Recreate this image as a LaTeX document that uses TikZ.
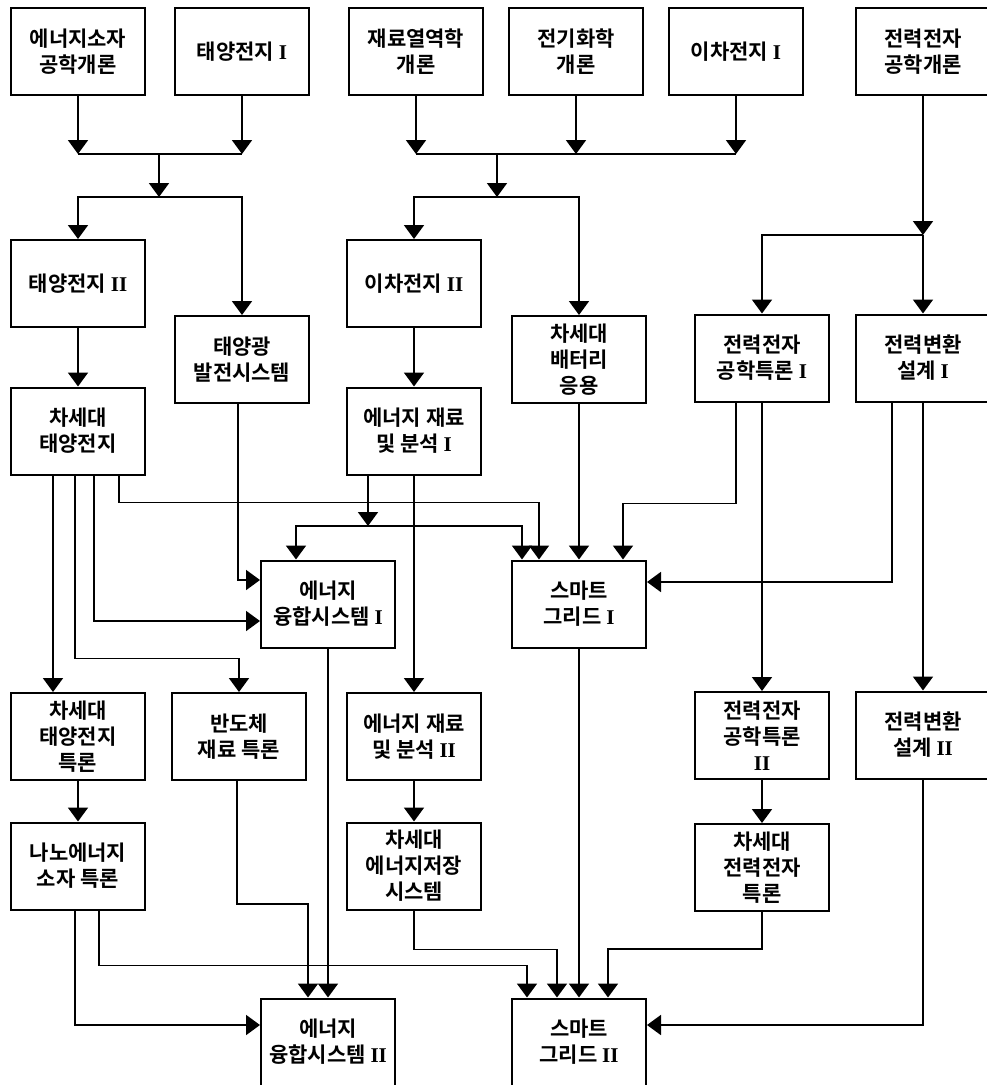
\documentclass[tikz,border=0pt]{standalone}
\usepackage{fontspec}
\usepackage{tikz}
\usetikzlibrary{arrows.meta}
\newfontfamily\kofont[BoldFont={Noto Sans CJK KR Bold}]{Noto Sans CJK KR}
\newfontfamily\numfont{Liberation Serif}
\newcommand{\rnum}[1]{{\numfont\bfseries #1}}
\tikzset{
  box/.style    = { rectangle, minimum width=134pt, minimum height=87pt, inner sep=0pt },
  border/.style = { line width=2pt, draw=black },
}
\tikzset{
  course/.style={
    box,
    border,
    align=center,
    font=\kofont\bfseries\fontsize{21}{26}\selectfont
  },
  link/.style = { line width=1.9pt, draw=black },
  flow/.style = { link, -{Triangle[width=20pt,length=14pt]} }
}
\begin{document}
\begin{tikzpicture}[x=1pt, y=-1pt]
  \useasboundingbox (0,0) rectangle (986,1085);
  \node (devintro)    [course] at (78,51.5)   {에너지소자\\공학개론};
  \node (solar1)      [course] at (242,51.5)  {태양전지 \rnum{I}};
  \node (thermo)      [course] at (416,51.5)  {재료열역학\\개론};
  \node (electrochem) [course] at (576,51.5)  {전기화학\\개론};
  \node (battery1)    [course] at (736,51.5)  {이차전지 \rnum{I}};
  \node (powerintro)  [course] at (923,51.5)  {전력전자\\공학개론};

  \node (solar2)      [course] at (78,283.5)  {태양전지 \rnum{II}};
  \node (battery2)    [course] at (414,283.5) {이차전지 \rnum{II}};

  \node (pvsys)       [course] at (242,359.5) {태양광\\발전시스템};
  \node (nextbat)     [course] at (579,359.5) {차세대\\배터리\\응용};
  \node (power1)      [course] at (762,358)   {전력전자\\공학특론 \rnum{I}};
  \node (conv1)       [course] at (923,358)   {전력변환\\설계 \rnum{I}};

  \node (nextsolar)   [course] at (78,431)    {차세대\\태양전지};
  \node (mat1)        [course] at (414,431)   {에너지 재료\\및 분석 \rnum{I}};

  \node (fusion1)     [course] at (328,604)   {에너지\\융합시스템 \rnum{I}};
  \node (grid1)       [course] at (579,604)   {스마트\\그리드 \rnum{I}};

  \node (solarsem)    [course] at (78,736.5)  {차세대\\태양전지\\특론};
  \node (semimat)     [course] at (239,736.5) {반도체\\재료 특론};
  \node (mat2)        [course] at (414,736.5) {에너지 재료\\및 분석 \rnum{II}};
  \node (power2)      [course] at (762,735.5) {전력전자\\공학특론\\\rnum{II}};
  \node (conv2)       [course] at (923,735)   {전력변환\\설계 \rnum{II}};

  \node (nano)        [course] at (78,866)    {나노에너지\\소자 특론};
  \node (storage)     [course] at (414,866)   {차세대\\에너지저장\\시스템};
  \node (nextpower)   [course] at (762,867.5) {차세대\\전력전자\\특론};

  \node (fusion2)     [course] at (328,1042)  {에너지\\융합시스템 \rnum{II}};
  \node (grid2)       [course] at (579,1042)  {스마트\\그리드 \rnum{II}};

  \coordinate (j1) at (159,154);
  \coordinate (j2) at (159,197);
  \coordinate (j3) at (497,154);
  \coordinate (j4) at (497,197);
  \coordinate (j5) at (923,235);
  \coordinate (j6) at (368,526);

  \draw [flow] (devintro)    -- (devintro |- j1);
  \draw [flow] (solar1)      -- (solar1 |- j1);
  \draw [link] (devintro |- j1) -- (solar1 |- j1);
  \draw [flow] (j1) -- (j2);
  \draw [flow] (j2) -| (solar2);
  \draw [flow] (j2) -| (pvsys);

  \draw [flow] (thermo)      -- (thermo |- j3);
  \draw [flow] (electrochem) -- (electrochem |- j3);
  \draw [flow] (battery1)    -- (battery1 |- j3);
  \draw [link] (thermo |- j3) -- (battery1 |- j3);
  \draw [flow] (j3) -- (j4);
  \draw [flow] (j4) -| (battery2);
  \draw [flow] (j4) -| (nextbat);

  \draw [flow] (powerintro) -- (j5);
  \draw [flow] (j5) -| (power1);
  \draw [flow] (j5) -- (conv1);

  \draw [flow] (solar2)   -- (nextsolar);
  \draw [flow] (battery2) -- (mat1);
  \draw [flow] (mat1)     -- (mat2);
  \draw [flow] (power1)   -- (power2);
  \draw [flow] (conv1)    -- (conv2);
  \draw [flow] (solarsem) -- (nano);
  \draw [flow] (mat2)     -- (storage);
  \draw [flow] (power2)   -- (nextpower);
  \draw [flow] (nextbat)  -- (grid1);
  \draw [flow] (grid1)    -- (grid2);
  \draw [flow] (fusion1)  -- (fusion2);

  \draw [flow] ([xshift=-25pt]nextsolar.south) -- ([xshift=-25pt]solarsem.north);
  \draw [flow] ([xshift=-3pt]nextsolar.south) -- ++(0,183) -| (semimat);
  \draw [flow] ([xshift=16pt]nextsolar.south) |- ([yshift=-17pt]fusion1.west);
  \draw [flow] ([xshift=41pt]nextsolar.south) -- ++(0,27) -| ([xshift=-40pt]grid1.north);
  \draw [flow] ([xshift=-4pt]pvsys.south) |- ([yshift=24pt]fusion1.west);
  \draw [flow] ([xshift=-46pt]mat1.south) -- (j6);
  \draw [flow] (j6) -| ([xshift=-32pt]fusion1.north);
  \draw [flow] (j6) -| ([xshift=-57pt]grid1.north);
  \draw [flow] ([xshift=-26pt]power1.south) -- ++(0,101) -| ([xshift=44pt]grid1.north);
  \draw [flow] ([xshift=-31pt]conv1.south) |- ([yshift=22pt]grid1.east);

  \draw [flow] ([xshift=-3pt]nano.south) |- ([yshift=17pt]fusion2.west);
  \draw [flow] ([xshift=21pt]nano.south) -- ++(0,55) -| ([xshift=-52pt]grid2.north);
  \draw [flow] ([xshift=-2pt]semimat.south) -- ++(0,123) -| ([xshift=-20pt]fusion2.north);
  \draw [flow] (storage.south)   -- ++(0,39) -| ([xshift=-22pt]grid2.north);
  \draw [flow] (nextpower.south) -- ++(0,37) -| ([xshift=29pt]grid2.north);
  \draw [flow] (conv2) |- ([yshift=17pt]grid2.east);
\end{tikzpicture}
\end{document}
